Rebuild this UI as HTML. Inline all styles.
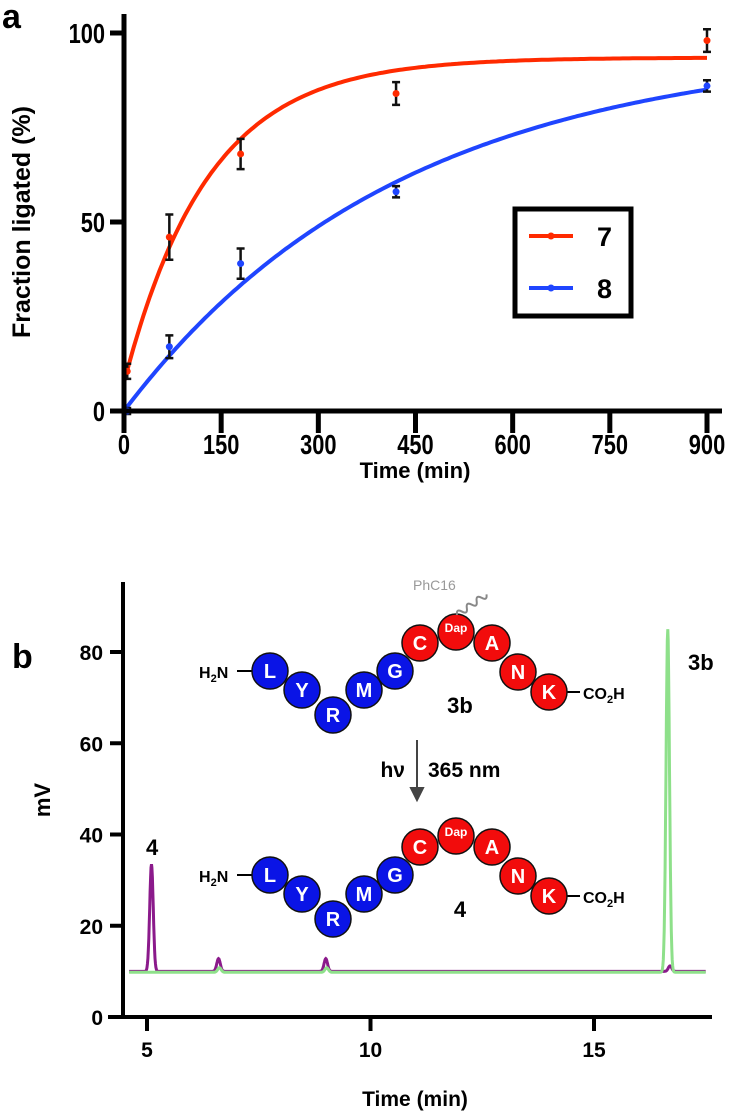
<!DOCTYPE html>
<html><head><meta charset="utf-8"><style>
body{margin:0;background:#fff;}
svg{display:block;font-family:"Liberation Sans",sans-serif;font-weight:bold;}
</style></head><body>
<svg id="fig" width="738" height="1117" viewBox="0 0 738 1117" xmlns="http://www.w3.org/2000/svg">
<text x="2" y="28" font-size="34">a</text>
<text x="12" y="668" font-size="34">b</text>
<g id="pa"></g>
<g id="pb"></g>
</svg>
<script>
const NS="http://www.w3.org/2000/svg";
function mk(p,t,a,txt){const e=document.createElementNS(NS,t);for(const k in a)e.setAttribute(k,a[k]);if(txt!==undefined)e.textContent=txt;p.appendChild(e);return e;}
// ---- Panel a data ----
const aTimes=[5,70,180,420,900];
const red7=[10.5,46,68,84,98];
const red7Err=[2,6,4,3,3];
const blue8=[0,17,39,58,86];
const blue8Err=[0.8,3,4,1.5,1.5];
const aXTicks=[0,150,300,450,600,750,900];
const aYTicks=[0,50,100];
const fit7=[93.5,86,130];   // plateau, amplitude, tau
const fit8=[96.8,96.8,427];
const ax=v=>124+v*(583/900), ay=v=>411-v*3.78;
const pa=document.getElementById('pa');
function curve(par,col,name){let d="";for(let t=0;t<=900;t+=5){const v=par[0]-par[1]*Math.exp(-t/par[2]);d+=(t?"L":"M")+ax(t).toFixed(1)+","+ay(v).toFixed(1);}
const p=mk(pa,'path',{d:d,fill:'none',stroke:col,'stroke-width':4});

}
curve(fit7,'#ff2a00','fit-curve-7');curve(fit8,'#1f45ff','fit-curve-8');
function pts(vals,errs,col,name){vals.forEach((v,i)=>{const x=ax(aTimes[i]),y=ay(v),e=errs[i]*3.78;
const g=mk(pa,'g',{});


mk(g,'path',{d:`M${x},${y-e}V${y+e}M${x-4},${y-e}H${x+4}M${x-4},${y+e}H${x+4}`,stroke:'#111','stroke-width':2.5,fill:'none'});
mk(g,'circle',{cx:x,cy:y,r:3.5,fill:col});});}
pts(red7,red7Err,'#ff2a00','series-7');pts(blue8,blue8Err,'#1f45ff','series-8');
mk(pa,'path',{d:`M124,14V${ay(0)+22}M110,${ay(0)}H${ax(900)+15}`,stroke:'#000','stroke-width':5,fill:'none',});
aYTicks.forEach(v=>{mk(pa,'line',{x1:110,x2:124,y1:ay(v),y2:ay(v),stroke:'#000','stroke-width':5});
const t=mk(pa,'text',{x:105,y:ay(v)+10,'font-size':28,'text-anchor':'end',transform:`translate(105,0) scale(0.78,1) translate(-105,0)`},v);

});
aXTicks.forEach(v=>{mk(pa,'line',{x1:ax(v),x2:ax(v),y1:ay(0),y2:ay(0)+22,stroke:'#000','stroke-width':5});
const t=mk(pa,'text',{x:ax(v),y:ay(0)+43,'font-size':28,'text-anchor':'middle',transform:`translate(${ax(v)},0) scale(0.78,1) translate(${-ax(v)},0)`},v);

});
mk(pa,'text',{x:415,y:478,'font-size':22,'text-anchor':'middle',},'Time (min)');
mk(pa,'text',{x:0,y:0,'font-size':25,'text-anchor':'middle',transform:'translate(30,222) rotate(-90)',},'Fraction ligated (%)');
const lg=mk(pa,'g',{});
mk(lg,'rect',{x:515,y:209,width:116,height:107,fill:'#fff',stroke:'#000','stroke-width':5});
mk(lg,'line',{x1:529,x2:573,y1:236,y2:236,stroke:'#ff2a00','stroke-width':4});mk(lg,'circle',{cx:551,cy:236,r:3.5,fill:'#ff2a00'});
mk(lg,'text',{x:597,y:246,'font-size':27,},'7');
mk(lg,'line',{x1:529,x2:573,y1:288,y2:288,stroke:'#1f45ff','stroke-width':4});mk(lg,'circle',{cx:551,cy:288,r:3.5,fill:'#1f45ff'});
mk(lg,'text',{x:597,y:298,'font-size':27,},'8');

// ---- Panel b data ----
const purplePeakTimes=[5.1,6.6,9.0,16.7];
const purplePeakHeights=[23.5,2.8,2.8,1.2];
const greenPeakTimes=[16.65,6.62,9.02];
const greenPeakHeights=[75.2,1.0,1.0];
const purpleBase=[10.0];
const greenBase=[9.8];
const bXTicks=[5,10,15];
const bYTicks=[0,20,40,60,80];
const bx=v=>147+(v-5)*44.7, by=v=>1017-v*4.5625;
const pb=document.getElementById('pb');
function trace(times,heights,base,col,name){let d="";for(let t=4.6;t<=17.5;t+=0.01){let v=base[0];times.forEach((c,i)=>{v+=heights[i]*Math.exp(-Math.pow((t-c)/0.055,2));});
d+=(d?"L":"M")+bx(t).toFixed(1)+","+by(v).toFixed(1);}
const p=mk(pb,'path',{d:d,fill:'none',stroke:col,'stroke-width':3});

}
trace(purplePeakTimes,purplePeakHeights,purpleBase,'#8b1a8b','trace-4');
trace(greenPeakTimes,greenPeakHeights,greenBase,'#8ee08a','trace-3b');
mk(pb,'path',{d:`M123,582V1019M108,1017H712`,stroke:'#000','stroke-width':4,fill:'none',});
bYTicks.forEach(v=>{mk(pb,'line',{x1:110,x2:123,y1:by(v),y2:by(v),stroke:'#000','stroke-width':4});
const t=mk(pb,'text',{x:103,y:by(v)+8,'font-size':21,'text-anchor':'end'},v);

});
bXTicks.forEach(v=>{mk(pb,'line',{x1:bx(v),x2:bx(v),y1:1017,y2:1031,stroke:'#000','stroke-width':4});
const t=mk(pb,'text',{x:bx(v),y:1057,'font-size':21,'text-anchor':'middle'},v);

});
mk(pb,'text',{x:415,y:1106,'font-size':21,'text-anchor':'middle',},'Time (min)');
mk(pb,'text',{x:0,y:0,'font-size':22,'text-anchor':'middle',transform:'translate(50,800) rotate(-90)',},'mV');
mk(pb,'text',{x:146,y:855,'font-size':22,},'4');
mk(pb,'text',{x:688,y:670,'font-size':22,},'3b');
// molecules
const res=[['L',270,671,'b'],['Y',302,690,'b'],['R',333,715,'b'],['M',364,690,'b'],['G',395,671,'b'],['C',420,643,'r'],['Dap',456,632,'r'],['A',492,643,'r'],['N',518,672,'r'],['K',549,692,'r']];
function molecule(dy,label,name){const g=mk(pb,'g',{});
mk(g,'line',{x1:237,x2:254,y1:671+dy,y2:671+dy,stroke:'#000','stroke-width':2});
mk(g,'line',{x1:566,x2:580,y1:692+dy,y2:692+dy,stroke:'#000','stroke-width':2});
const h=mk(g,'text',{x:199,y:678+dy,'font-size':16});h.innerHTML='H<tspan font-size="11" dy="4">2</tspan><tspan dy="-4">N</tspan>';
const c=mk(g,'text',{x:583,y:699+dy,'font-size':16});c.innerHTML='CO<tspan font-size="11" dy="4">2</tspan><tspan dy="-4">H</tspan>';
res.forEach(r=>{mk(g,'circle',{cx:r[1],cy:r[2]+dy,r:18,fill:r[3]=='b'?'#0a14e6':'#f20c0c',stroke:'#111','stroke-width':1.5});
mk(g,'text',{x:r[1],y:r[2]+dy+(r[0]=='Dap'?0:7),'font-size':r[0]=='Dap'?12:20,fill:'#fff','text-anchor':'middle'},r[0]);});
mk(g,'text',{x:460,y:713+dy,'font-size':22,'text-anchor':'middle'},label);}
molecule(0,'3b','peptide-3b');molecule(204,'4','peptide-4');
mk(pb,'path',{d:'M457,615 q3,-6 6,0 t6,0 t6,0 t6,0 t6,0 t6,0',transform:'rotate(-35 457 615)',fill:'none',stroke:'#888','stroke-width':2,});
mk(pb,'text',{x:413,y:590,'font-size':14,fill:'#999','font-weight':'normal',},'PhC16');
mk(pb,'path',{d:'M417,740V797M411,788L417,800L423,788Z',stroke:'#444','stroke-width':2,fill:'#444',});
mk(pb,'text',{x:405,y:777,'font-size':21,'text-anchor':'end',},'hν');
mk(pb,'text',{x:428,y:777,'font-size':21,},'365 nm');
</script>
</body></html>
